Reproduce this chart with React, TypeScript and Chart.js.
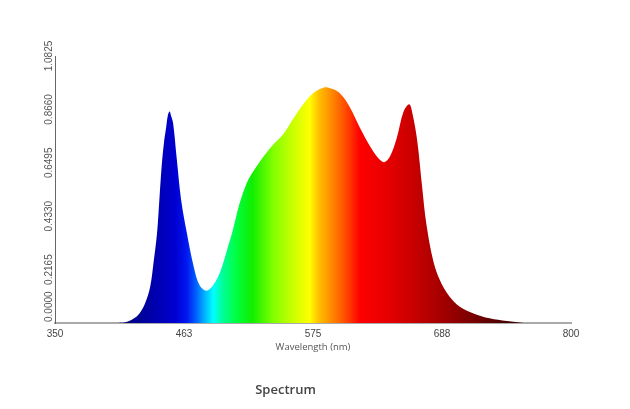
import React, { useEffect, useRef } from 'react';
import { Chart, registerables } from 'chart.js';

Chart.register(...registerables);

// ---- data ----
const wavelengths = [405, 412, 418, 424, 429, 433, 436, 439, 441, 443, 445, 447, 448.5, 450, 451, 453, 456, 460, 465, 471, 476, 482, 488, 494, 500, 505, 511, 517, 523, 532, 540, 549, 558, 566, 575, 584, 590, 598, 607, 616, 625, 632, 637, 642, 648, 654, 659, 662, 666, 670, 674, 680, 686, 694, 703, 715, 729, 744, 759];
const intensity = [0, 0.004, 0.016, 0.041, 0.085, 0.147, 0.247, 0.365, 0.499, 0.634, 0.730, 0.796, 0.843, 0.857, 0.843, 0.810, 0.674, 0.499, 0.365, 0.228, 0.154, 0.131, 0.154, 0.207, 0.296, 0.375, 0.485, 0.565, 0.615, 0.676, 0.722, 0.765, 0.830, 0.884, 0.931, 0.954, 0.952, 0.933, 0.876, 0.791, 0.715, 0.668, 0.652, 0.674, 0.749, 0.857, 0.887, 0.843, 0.735, 0.560, 0.397, 0.249, 0.170, 0.107, 0.066, 0.039, 0.019, 0.008, 0];

const xTickValues = [350, 462.5, 575, 687.5, 800];
const xTickLabels = ['350', '463', '575', '688', '800'];
const yTickValues = [0, 0.2165, 0.433, 0.6495, 0.866, 1.0825];
const yTickLabels = ['0.0000', '0.2165', '0.4330', '0.6495', '0.8660', '1.0825'];

// spectrum colour stops: wavelength (nm) and colour
const stopNm = [400, 420, 440, 455, 465, 473, 481, 488, 496, 508, 522, 540, 557, 572, 580, 588, 604, 616, 645, 668, 694, 729, 760];
const stopColor = ['#000060', '#000090', '#0000b4', '#0000d2', '#0018f0', '#0060ff', '#00b8ff', '#00ffff', '#00ff9a', '#00ff40', '#10ee00', '#80ff00', '#c8ff00', '#ffff00', '#ffc000', '#ff9900', '#ff4800', '#ff0000', '#e00000', '#c00000', '#9a0000', '#600000', '#300000'];

const yLabelPlugin = {
  id: 'yRotLabels',
  afterDraw(chart: any) {
    const scale = chart.scales.y;
    const area = chart.chartArea;
    const ctx = chart.ctx;
    ctx.save();
    ctx.font = '10px "Liberation Sans", Arial, sans-serif';
    ctx.fillStyle = '#555';
    ctx.textAlign = 'center';
    ctx.textBaseline = 'middle';
    yTickValues.forEach((v, i) => {
      const text = yTickLabels[i];
      const w = ctx.measureText(text).width;
      const p = scale.getPixelForValue(v);
      const cy = Math.min(p, area.bottom - w / 2 - 1);
      ctx.save();
      ctx.translate(area.left - 6, cy);
      ctx.rotate(-Math.PI / 2);
      ctx.fillText(text, 0, 0);
      ctx.restore();
    });
    ctx.restore();
  },
};

export default function App() {
  const ref = useRef<HTMLCanvasElement | null>(null);

  useEffect(() => {
    const canvas = ref.current;
    if (!canvas) return;
    const chart = new Chart(canvas, {
      type: 'line',
      data: {
        datasets: [
          {
            label: 'Spectrum',
            data: wavelengths.map((x, i) => ({ x, y: intensity[i] })),
            fill: 'origin',
            borderWidth: 0,
            pointRadius: 0,
            tension: 0.35,
            backgroundColor: (c: any) => {
              const ch = c.chart;
              const area = ch.chartArea;
              if (!area || !ch.scales.x) return '#ff0000';
              const x0 = ch.scales.x.getPixelForValue(350);
              const x1 = ch.scales.x.getPixelForValue(800);
              const g = ch.ctx.createLinearGradient(x0, 0, x1, 0);
              stopNm.forEach((nm, i) => g.addColorStop((nm - 350) / 450, stopColor[i]));
              return g;
            },
          },
        ],
      },
      options: {
        responsive: false,
        animation: false,
        layout: { padding: { top: 56, right: 59, left: 0, bottom: 0 } },
        plugins: {
          legend: { display: false },
          tooltip: { enabled: false },
          title: {
            display: true,
            position: 'bottom',
            text: 'Spectrum',
            color: '#444',
            font: { family: '"Open Sans", "Noto Sans", sans-serif', size: 13, weight: '600' },
            padding: { top: 0, bottom: 11 },
          },
        },
        scales: {
          x: {
            type: 'linear',
            min: 350,
            max: 800,
            afterBuildTicks: (s: any) => {
              s.ticks = xTickValues.map((value) => ({ value }));
            },
            afterFit: (s: any) => {
              s.height = 59.4;
            },
            grid: { display: false, drawTicks: false },
            border: { display: true, color: '#aaaaaa', width: 2 },
            ticks: {
              padding: 5,
              color: '#444',
              font: { family: '"Liberation Sans", Arial, sans-serif', size: 10 },
              maxRotation: 0,
              callback: (_v: any, i: number) => xTickLabels[i],
            },
            title: {
              display: true,
              text: 'Wavelength (nm)',
              color: '#555',
              font: { family: '"Open Sans", "Noto Sans", sans-serif', size: 9.5 },
              padding: { top: 0, bottom: 29.5 },
            },
          },
          y: {
            type: 'linear',
            min: 0,
            max: 1.0825,
            afterBuildTicks: (s: any) => {
              s.ticks = yTickValues.map((value) => ({ value }));
            },
            afterFit: (s: any) => {
              s.width = 55;
            },
            grid: { display: false, drawTicks: false },
            border: { display: true, color: '#666666', width: 1 },
            ticks: { display: false },
          },
        },
      },
      plugins: [yLabelPlugin],
    } as any);
    return () => chart.destroy();
  }, []);

  return (
    <div style={{ position: 'fixed', left: 0, top: 0, width: 630, height: 409, background: '#fff' }}>
      <canvas ref={ref} width={630} height={409} style={{ display: 'block' }} />
    </div>
  );
}
